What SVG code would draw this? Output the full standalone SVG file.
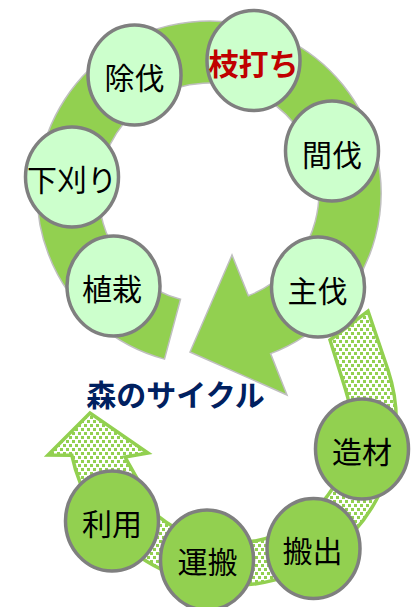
<svg xmlns="http://www.w3.org/2000/svg" width="414" height="607" viewBox="0 0 414 607">
<defs>
<pattern id="dots" width="6" height="8" patternUnits="userSpaceOnUse">
<rect width="6" height="8" fill="#FFFFFF"/>
<rect x="0" y="0" width="3" height="3" fill="#92D050"/>
<rect x="3" y="4" width="3" height="3" fill="#92D050"/>
</pattern>
</defs>
<style>
.node ellipse{stroke:#7F7F7F;stroke-width:3.5}
.up ellipse{fill:#CCFFCC}
.low ellipse{fill:#92D050}
.node text{font-family:"Noto Sans CJK JP","Noto Sans CJK SC",sans-serif;font-size:30px;fill:#000;text-anchor:middle;dominant-baseline:central}
</style>
<rect width="414" height="607" fill="#FFFFFF"/>
<g id="connectors">
<path id="forest-cycle-arrow" d="M164.5,359.1 A172,172 0 1 1 270.6,353.6 L287,395 L190,352 L232,255 L248.4,295.7 A110,110 0 1 0 180.5,299.3 Z" fill="#92D050" stroke="#BFBFBF" stroke-width="1.5"/>
<path id="use-arrow" d="M368,311 L388,370 A164,164 0 1 1 71.8,455.2 L48,455 L90,413 L148,453 L125,457 L158.7,516.7 A118,118 0 0 0 345.2,388.5 L330,340 Z" fill="url(#dots)" stroke="#92D050" stroke-width="3.5" stroke-linejoin="miter"/>
</g>
<text x="175.5" y="393" font-family="'Noto Sans CJK JP','Noto Sans CJK SC',sans-serif" font-size="30" font-weight="bold" fill="#002060" text-anchor="middle" dominant-baseline="central">森のサイクル</text>
<g id="n-jobatsu" class="node up"><ellipse cx="134.5" cy="75" rx="46.5" ry="50"/><text x="134.5" y="76">除伐</text></g>
<g id="n-edauchi" class="node up"><ellipse cx="253.5" cy="60.5" rx="46.5" ry="50"/><text x="253.5" y="61.5" style="fill:#C00000;font-weight:bold">枝打ち</text></g>
<g id="n-kanbatsu" class="node up"><ellipse cx="332" cy="151" rx="46.5" ry="50"/><text x="332" y="152.5">間伐</text></g>
<g id="n-shitagari" class="node up"><ellipse cx="72" cy="177" rx="46.5" ry="50"/><text x="72" y="178">下刈り</text></g>
<g id="n-shokusai" class="node up"><ellipse cx="113.5" cy="286" rx="46.5" ry="50"/><text x="112" y="287">植栽</text></g>
<g id="n-shubatsu" class="node up"><ellipse cx="318" cy="287" rx="46.5" ry="50"/><text x="317.5" y="289">主伐</text></g>
<g id="n-zouzai" class="node low"><ellipse cx="362" cy="449" rx="46.5" ry="50"/><text x="362" y="450">造材</text></g>
<g id="n-hanshutsu" class="node low"><ellipse cx="313.5" cy="548.5" rx="46.5" ry="50"/><text x="312.5" y="549">搬出</text></g>
<g id="n-unpan" class="node low"><ellipse cx="207" cy="560" rx="46.5" ry="50"/><text x="207.5" y="559.5">運搬</text></g>
<g id="n-riyou" class="node low"><ellipse cx="112" cy="521" rx="46.5" ry="50"/><text x="112" y="522">利用</text></g>
</svg>
